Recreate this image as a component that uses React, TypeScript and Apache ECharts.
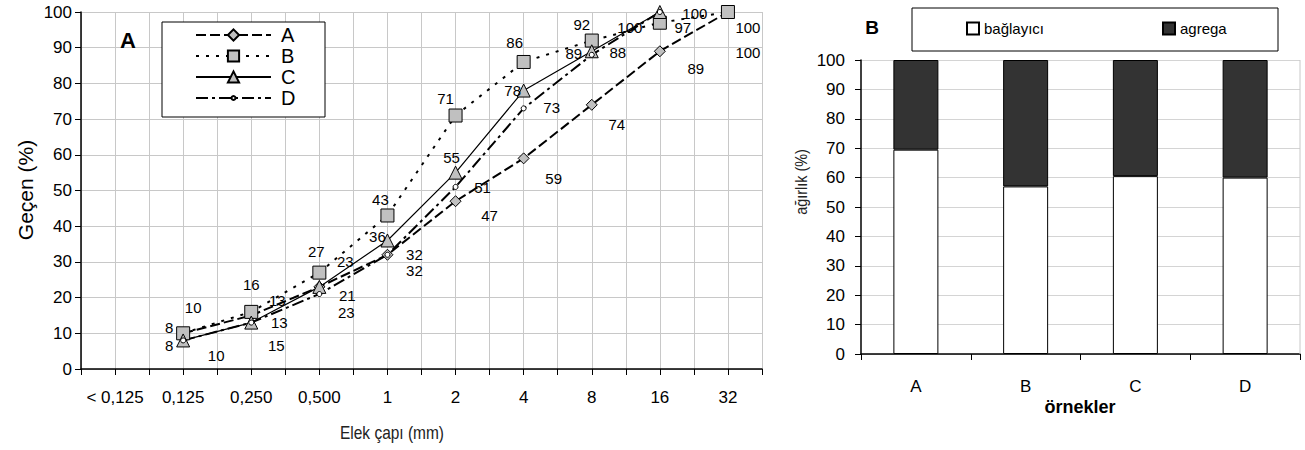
import React, { useEffect, useRef } from "react";
import * as echarts from "echarts";

// ---- Data: sieve analysis (left) ----
const sieveLabels = ["< 0,125", "0,125", "0,250", "0,500", "1", "2", "4", "8", "16", "32"];
const seriesA = [null, 10, 15, 23, 32, 47, 59, 74, 89, 100];
const seriesB = [null, 10, 16, 27, 43, 71, 86, 92, 97, 100];
const seriesC = [null, 8, 13, 23, 36, 55, 78, 89, 100, null];
const seriesD = [null, 8, 13, 21, 32, 51, 73, 88, 100, null];
const yTicks = [0, 100, 10]; // min, max, interval

// ---- Data: composition (right) ----
const samples = ["A", "B", "C", "D"];
const binder = [69.5, 57, 60.5, 60];
const aggregate = [30.5, 43, 39.5, 40];

// label offsets (style only)
const labelOffsets: Record<string, (number[] | null)[]> = {
  A: [null, [33, 22], [25, 30], [27, 26], [27, 16], [34, 14], [30, 20], [25, 20], [36, 17], [20, 40]],
  B: [null, [10, -26], [0, -27], [-3, -21], [-7, -16], [-10, -17], [-9, -19], [-10, -16], [23, 5], [20, 15]],
  C: [null, [-14, 5], [26, -22], [26, -25], [-10, -4], [-4, -15], [-11, 0], [-18, 2], [-30, 15], null],
  D: [null, [-14, -13], [28, 0], [28, 1], [27, 0], [27, 1], [28, -1], [26, -2], [35, 1], null],
};

const FONT = "'Liberation Sans', Arial, sans-serif";

function buildLine(name: string, values: (number | null)[], symbol: string, symbolSize: number, fill: string, lineType: any, lineWidth: number) {
  const data: any[] = [];
  values.forEach((v, i) => {
    if (v === null) return;
    data.push({
      value: [2 * i + 1, v],
      label: { offset: labelOffsets[name][i] || [0, 0] },
    });
  });
  return {
    name,
    type: "line",
    xAxisIndex: 0,
    yAxisIndex: 0,
    data,
    symbol,
    symbolSize,
    showAllSymbol: true,
    itemStyle: { color: fill, borderColor: "#000", borderWidth: 1 },
    lineStyle: { color: "#000", width: lineWidth, type: lineType },
    label: {
      show: true,
      position: "inside",
      formatter: (p: any) => String(p.value[1]),
      fontFamily: FONT,
      fontSize: 15,
      color: "#000",
    },
    emphasis: { disabled: true },
    silent: true,
  };
}

export default function App() {
  const ref = useRef<HTMLDivElement>(null);
  useEffect(() => {
    document.body.style.margin = "0";
    const chart = echarts.init(ref.current!, null, { renderer: "svg" });
    const option: any = {
      animation: false,
      backgroundColor: "#fff",
      textStyle: { fontFamily: FONT },
      grid: [
        { left: 81, top: 12, width: 681, height: 357 },
        { left: 861, top: 60, width: 439, height: 294 },
      ],
      xAxis: [
        {
          gridIndex: 0,
          type: "value",
          min: 0,
          max: 20,
          interval: 1,
          axisLine: { show: true, lineStyle: { color: "#000", width: 1.5 } },
          axisTick: { show: true, length: 6, lineStyle: { color: "#000" } },
          axisLabel: {
            formatter: (v: number) => (v % 2 === 1 ? sieveLabels[(v - 1) / 2] : ""),
            fontSize: 17,
            color: "#000",
            margin: 20,
            fontFamily: FONT,
          },
          splitLine: { show: true, lineStyle: { color: "#c8c8c8", width: 1 } },
        },
        {
          gridIndex: 1,
          type: "category",
          data: samples,
          axisLine: { show: true, lineStyle: { color: "#000", width: 1.5 } },
          axisTick: { show: true, length: 6, lineStyle: { color: "#000" } },
          axisLabel: { fontSize: 17, color: "#000", margin: 24, fontFamily: FONT },
          splitLine: { show: false },
        },
      ],
      yAxis: [
        {
          gridIndex: 0,
          type: "value",
          min: yTicks[0],
          max: yTicks[1],
          interval: yTicks[2],
          axisLine: { show: true, lineStyle: { color: "#000", width: 1.5 } },
          axisTick: { show: true, length: 6, lineStyle: { color: "#000" } },
          axisLabel: { fontSize: 17, color: "#000", margin: 9, fontFamily: FONT },
          splitLine: { show: true, lineStyle: { color: "#c8c8c8", width: 1 } },
        },
        {
          gridIndex: 1,
          type: "value",
          min: yTicks[0],
          max: yTicks[1],
          interval: yTicks[2],
          axisLine: { show: true, lineStyle: { color: "#000", width: 1.5 } },
          axisTick: { show: true, length: 6, lineStyle: { color: "#000" } },
          axisLabel: { fontSize: 17, color: "#000", margin: 16, fontFamily: FONT },
          splitLine: { show: true, lineStyle: { color: "#d4d4d4", width: 1 } },
        },
      ],
      legend: [
        {
          data: ["A", "B", "C"],
          orient: "vertical",
          left: 195,
          top: 25,
          padding: 0,
          itemWidth: 75,
          itemHeight: 14,
          itemGap: 1,
          selectedMode: false,
          textStyle: { fontSize: 20, lineHeight: 20, color: "#000", fontFamily: FONT, padding: [0, 0, 0, 5] },
          z: 5,
        },
        {
          data: ["D"],
          orient: "vertical",
          left: 195,
          top: 88,
          padding: 0,
          itemWidth: 75,
          itemHeight: 5,
          selectedMode: false,
          textStyle: { fontSize: 20, lineHeight: 19, color: "#000", fontFamily: FONT, padding: [0, 0, 0, 5] },
          z: 5,
        },
        {
          data: ["bağlayıcı"],
          left: 966,
          top: 21,
          padding: 0,
          itemWidth: 12,
          itemHeight: 12,
          icon: "rect",
          selectedMode: false,
          textStyle: { fontSize: 15, color: "#000", fontFamily: FONT },
          z: 5,
        },
        {
          data: ["agrega"],
          left: 1162,
          top: 21,
          padding: 0,
          itemWidth: 12,
          itemHeight: 12,
          icon: "rect",
          selectedMode: false,
          textStyle: { fontSize: 15, color: "#000", fontFamily: FONT },
          z: 5,
        },
      ],
      graphic: [
        { type: "rect", z: 3, shape: { x: 162, y: 22, width: 163, height: 95 }, style: { fill: "#fff", stroke: "#000", lineWidth: 1 } },
        { type: "rect", z: 3, shape: { x: 912, y: 8, width: 366, height: 43 }, style: { fill: "#fff", stroke: "#000", lineWidth: 1 } },
        { type: "line", z: 1, shape: { x1: 1300, y1: 60, x2: 1300, y2: 354 }, style: { stroke: "#c8c8c8", lineWidth: 1 } },
        { type: "text", z: 5, x: 128, y: 40, style: { text: "A", font: `bold 22px ${FONT}`, fill: "#000", align: "center", verticalAlign: "middle" } },
        { type: "text", z: 5, x: 872, y: 27, style: { text: "B", font: `bold 19px ${FONT}`, fill: "#000", align: "center", verticalAlign: "middle" } },
        { type: "text", z: 5, x: 25, y: 190, rotation: Math.PI / 2, style: { text: "Geçen (%)", font: `21px ${FONT}`, fill: "#000", align: "center", verticalAlign: "middle" } },
        { type: "text", z: 5, x: 392, y: 433, scaleX: 0.86, style: { text: "Elek çapı (mm)", font: `18px ${FONT}`, fill: "#222", align: "center", verticalAlign: "middle" } },
        { type: "text", z: 5, x: 801, y: 182, rotation: Math.PI / 2, scaleX: 0.9, style: { text: "ağırlık (%)", font: `16px ${FONT}`, fill: "#222", align: "center", verticalAlign: "middle" } },
        { type: "text", z: 5, x: 1080, y: 407, style: { text: "örnekler", font: `bold 18px ${FONT}`, fill: "#000", align: "center", verticalAlign: "middle" } },
      ],
      series: [
        buildLine("A", seriesA, "diamond", 11, "#c0c0c0", [10, 4], 2),
        buildLine("B", seriesB, "rect", 13, "#c0c0c0", [3, 7], 2),
        buildLine("C", seriesC, "triangle", 13, "#c0c0c0", "solid", 1.2),
        buildLine("D", seriesD, "circle", 5, "#fff", [12, 4, 3, 4], 2),
        {
          name: "bağlayıcı",
          type: "bar",
          xAxisIndex: 1,
          yAxisIndex: 1,
          stack: "total",
          barWidth: 45,
          data: binder,
          itemStyle: { color: "#fff", borderColor: "#000", borderWidth: 1 },
          emphasis: { disabled: true },
          silent: true,
        },
        {
          name: "agrega",
          type: "bar",
          xAxisIndex: 1,
          yAxisIndex: 1,
          stack: "total",
          barWidth: 45,
          data: aggregate,
          itemStyle: { color: "#333333", borderColor: "#000", borderWidth: 1 },
          emphasis: { disabled: true },
          silent: true,
        },
      ],
    };
    chart.setOption(option);
    return () => chart.dispose();
  }, []);
  return <div ref={ref} style={{ width: 1305, height: 450 }} />;
}
